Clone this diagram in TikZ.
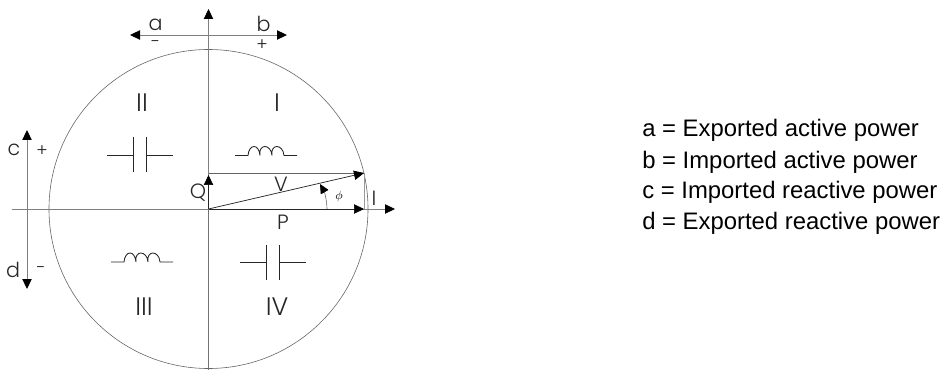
\documentclass[tikz,border=0pt]{standalone}
\usepackage{fontspec}
\setmainfont{Liberation Sans}
\newfontfamily\geo{Poppins Light}
\usetikzlibrary{arrows.meta}
\tikzset{
  x=0.75pt,y=-0.75pt,
  tipstyle/.style={-{Triangle[length=7.5pt,width=7pt,color=black,fill=black]}},
  thin line/.style={draw=black!60,line width=0.45pt},
  axis line/.style={draw=black!55,line width=0.55pt},
  vec/.style={draw=black!85,line width=0.55pt,tipstyle},
  axisarrow/.style={draw=black!50,line width=0.6pt,tipstyle},
  twoway/.style={draw=black!50,line width=0.7pt,{Triangle[length=7.5pt,width=7pt,color=black,fill=black]}-{Triangle[length=7.5pt,width=7pt,color=black,fill=black]}},
  lab/.style={font=\geo\fontsize{15.5}{17}\selectfont,inner sep=0pt,text=black!85},
  roman/.style={font=\geo\fontsize{19}{21}\selectfont,inner sep=0pt,text=black!85},
  small/.style={font=\geo\fontsize{13}{15}\selectfont,inner sep=0pt,text=black!85},
  legend/.style={font=\fontsize{17.9}{20}\selectfont,inner sep=0pt,anchor=base west},
  part/.style={draw=black!85,line width=0.65pt},
  capacitor/.pic={
    \draw[part] (-33,0) -- (-6.5,0) (-6.5,-17.5) -- (-6.5,17.5) (6.5,-17.5) -- (6.5,17.5) (6.5,0) -- (33,0);
  },
  inductor/.pic={
    \draw[part] (-31,0) -- (-18,0) .. controls (-17,-12) and (-7,-12) .. (-6,0)
      .. controls (-8,-12) and (5,-12) .. (6,0)
      .. controls (4,-12) and (17,-12) .. (18,0) -- (31,0);
  }
}
\begin{document}
\begin{tikzpicture}
\useasboundingbox (0,0) rectangle (945,370);
\coordinate (O) at (208.5,209);
\coordinate (axisT) at (208.5,9);
\coordinate (axisB) at (208.5,370);
\coordinate (axisL) at (12,209);
\coordinate (axisR) at (395,209);
\coordinate (Qtop) at (208.5,175);
\coordinate (Qline) at (208.5,173);
\coordinate (tip) at (364,173);
\coordinate (foot) at (364,209);
\coordinate (aEnd) at (130,35);
\coordinate (bEnd) at (287,35);
\coordinate (cEnd) at (27,130);
\coordinate (dEnd) at (27,289);
\coordinate (phiA) at (327,209);
\coordinate (phiB) at (320,184);

\draw[thin line] (O) circle[radius=159.5];
\draw[axis line] (axisB) -- (O);
\draw[axisarrow] (O) -- (axisT);
\draw[axisarrow] (axisL) -- (axisR);
\draw[twoway] (aEnd) -- (bEnd);
\draw[twoway] (cEnd) -- (dEnd);

\draw[thin line] (Qline) -- (tip);
\draw[draw=black!40,line width=0.7pt] (tip) -- (foot);
\draw[vec] (O) -- (Qtop);
\draw[vec] (O) -- (foot);
\draw[vec] (O) -- (tip);
\draw[thin line,-{Triangle[length=7pt,width=6.5pt,color=black,fill=black]}] (phiA) .. controls (327,200) and (324,191) .. (phiB);

\pic at (140,155) {capacitor};
\pic at (272.5,262.5) {capacitor};
\pic at (266,155.5) {inductor};
\pic at (142,262) {inductor};

\node[lab] (na) at (155.5,25) {a};
\node[lab] (nb) at (263.5,24) {b};
\node[small] (nminus) at (155.5,44) {-};
\node[small] (nplus) at (262,45) {+};
\node[lab] (nc) at (14,150) {c};
\node[small] (ncplus) at (42,151) {+};
\node[lab] (nd) at (13,270) {d};
\node[small] (ndminus) at (41,270) {-};
\node[roman] (nII) at (142,103) {II};
\node[roman] (nI) at (277,103) {I};
\node[roman] (nIII) at (144,307) {III};
\node[roman] (nIV) at (277,307) {IV};
\node[lab] (nQ) at (198,193) {Q};
\node[lab] (nV) at (281,184) {V};
\node[lab] (nP) at (283,222) {P};
\node[lab] (nI2) at (374,198) {I};
\node[font=\fontsize{9}{10}\selectfont,inner sep=0pt] (nphi) at (339,197) {$\phi$};

\node[legend] (l1) at (642,137) {a = Exported active power};
\node[legend] (l2) at (642,169) {b = Imported active power};
\node[legend] (l3) at (642,199) {c = Imported reactive power};
\node[legend] (l4) at (642,230) {d = Exported reactive power};
\end{tikzpicture}
\end{document}
